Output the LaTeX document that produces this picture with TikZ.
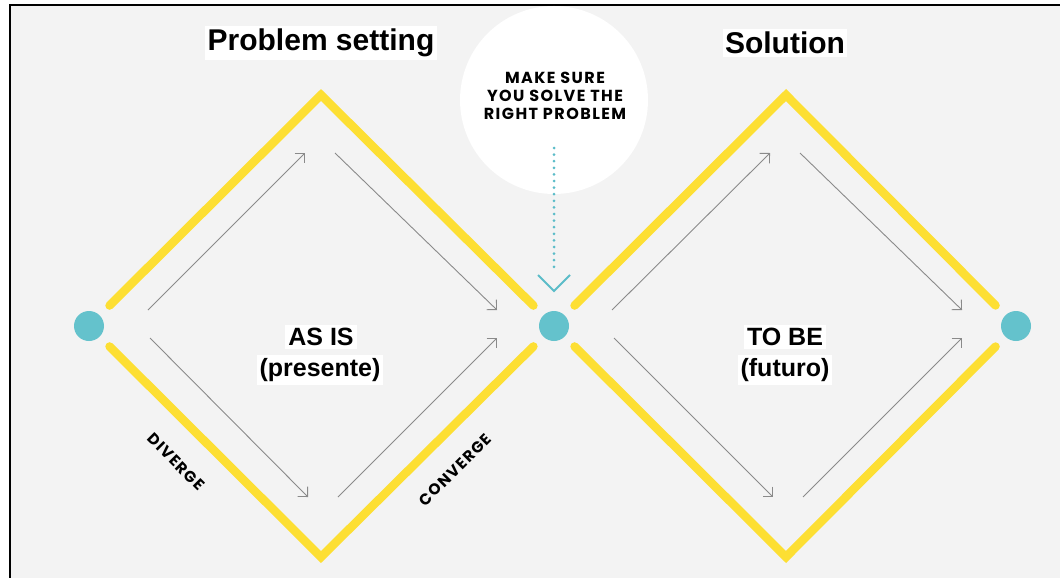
\documentclass[tikz,border=0pt]{standalone}
\usepackage{fontspec}
\setmainfont{Liberation Sans}
\newfontfamily\geo[LetterSpace=9]{Poppins}
\newfontfamily\geolab[LetterSpace=8]{Poppins}
\usetikzlibrary{arrows.meta}
\definecolor{bg}{HTML}{F3F3F3}
\definecolor{yel}{HTML}{FDDF33}
\definecolor{tealdot}{HTML}{64C2CC}
\definecolor{tealline}{HTML}{5BBCC8}
\definecolor{arr}{HTML}{8A8A8A}
\begin{document}
\begin{tikzpicture}[x=1pt,y=-1pt,
  dot/.style={circle,fill=tealdot,minimum size=30pt,inner sep=0pt},
  yline/.style={draw=yel,line width=8.5pt,line cap=round,line join=miter,shorten <=29pt,shorten >=29pt},
  garrow/.style={draw=arr,line width=0.9pt,-{Straight Barb[angle=90:10pt]}},
  title/.style={fill=white,inner sep=2.5pt,font=\fontsize{30}{34}\selectfont\bfseries},
  phase/.style={fill=white,inner sep=3pt,font=\fontsize{25}{28}\selectfont\bfseries},
  lab/.style={font=\geolab\fontsize{15.5}{17}\selectfont\bfseries},
  bubbletext/.style={align=center,font=\geo\fontsize{16}{18}\selectfont\bfseries}]
\useasboundingbox (0,0) rectangle (1060,578);
\fill[white] (0,0) rectangle (1060,578);
\fill[bg] (10,5) rectangle (1060,578);
\draw[line width=2pt] (10,578) -- (10,5) -- (1060,5);

% dots
\node[dot] (L) at (89,326) {};
\node[dot] (M) at (554,326) {};
\node[dot] (R) at (1016,326) {};

% diamond vertices
\coordinate (TL) at (321,95);
\coordinate (BL) at (321,557);
\coordinate (TR) at (786,95);
\coordinate (BR) at (786,557);

\draw[yline] (L.center) -- (TL) -- (M.center);
\draw[yline] (L.center) -- (BL) -- (M.center);
\draw[yline] (M.center) -- (TR) -- (R.center);
\draw[yline] (M.center) -- (BR) -- (R.center);

% gray arrows
\coordinate (a1s) at (148,310); \coordinate (a1e) at (305,153);
\coordinate (a2s) at (335,153); \coordinate (a2e) at (497,310);
\coordinate (a3s) at (150,338); \coordinate (a3e) at (308,497);
\coordinate (a4s) at (338,497); \coordinate (a4e) at (497,338);
\coordinate (b1s) at (612,310); \coordinate (b1e) at (770,153);
\coordinate (b2s) at (800,153); \coordinate (b2e) at (962,310);
\coordinate (b3s) at (614,338); \coordinate (b3e) at (773,497);
\coordinate (b4s) at (803,497); \coordinate (b4e) at (962,338);
\foreach \p in {a1,a2,a3,a4,b1,b2,b3,b4}
  \draw[garrow] (\p s) -- (\p e);

% bubble
\node[circle,fill=white,minimum size=188pt,inner sep=0pt] (C) at (554,100) {};
\node[bubbletext] (CT) at (555,96) {MAKE SURE\\YOU SOLVE THE\\RIGHT PROBLEM};
\coordinate (d1) at (554,148);
\coordinate (d2) at (554,273);
\draw[tealline,line width=3pt,line cap=round,dash pattern=on 0pt off 6.6pt] (d1) -- (d2);
\coordinate (v1) at (538,275);
\coordinate (v2) at (554,291);
\coordinate (v3) at (570,275);
\draw[tealline,line width=2pt] (v1) -- (v2) -- (v3);

% titles
\node[title] (T1) at (321,43) {Problem setting};
\node[title] (T2) at (785,43) {Solution};

% phases
\node[phase] (P1) at (321,337) {AS IS};
\node[phase] (P2) at (320,370) {(presente)};
\node[phase] (P3) at (785,337) {TO BE};
\node[phase] (P4) at (785,370) {(futuro)};

% labels
\node[lab,rotate=-45] (DV) at (176,462) {DIVERGE};
\node[lab,rotate=45] (CV) at (455,470) {CONVERGE};
\end{tikzpicture}
\end{document}
